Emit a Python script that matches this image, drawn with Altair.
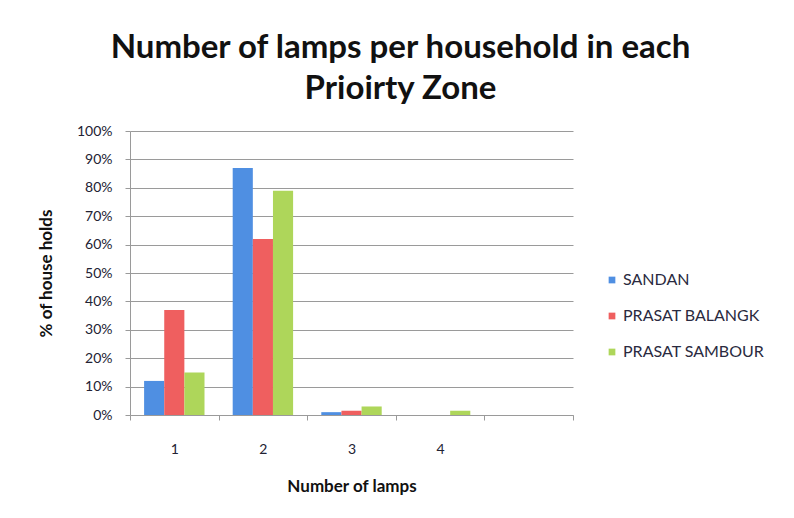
import altair as alt
import pandas as pd

categories = ["1", "2", "3", "4", " "]
zones = ["SANDAN", "PRASAT BALANGK", "PRASAT SAMBOUR"]
sandan = [12, 87, 1, 0]
balangk = [37, 62, 1.5, 0]
sambour = [15, 79, 3, 1.5]

rows = []
for zone, vals in zip(zones, [sandan, balangk, sambour]):
    for cat, v in zip(categories[:4], vals):
        rows.append({"lamps": cat, "zone": zone, "pct": v / 100})
df = pd.DataFrame(rows)

colors = ["#4f8fe2", "#ef5f5f", "#aed65a"]
font = "Lato"

chart = alt.Chart(df).mark_bar().encode(
    x=alt.X("lamps:N", scale=alt.Scale(domain=categories, paddingInner=0, paddingOuter=0),
            axis=alt.Axis(title="Number of lamps", labelAngle=0, tickBand="extent",
                          labelPadding=22, titlePadding=22, domainColor="#9a9a9a",
                          tickColor="#9a9a9a", tickSize=5, grid=False,
                          labelFont=font, titleFont=font, labelFontSize=14, titleFontSize=17,
                          labelColor="#222233", titleColor="#111111", titleFontWeight="bold")),
    xOffset=alt.XOffset("zone:N", sort=zones,
                        scale=alt.Scale(paddingInner=0, paddingOuter=0.7)),
    y=alt.Y("pct:Q", scale=alt.Scale(domain=[0, 1]),
            axis=alt.Axis(title="% of house holds", format=".0%",
                          values=[i / 10 for i in range(11)], labelOverlap=False,
                          labelPadding=13, titlePadding=21, domainColor="#9a9a9a",
                          tickColor="#9a9a9a", tickSize=5, grid=True, gridColor="#9a9a9a",
                          labelFont=font, titleFont=font, labelFontSize=14, titleFontSize=17,
                          labelColor="#222233", titleColor="#111111", titleFontWeight="bold")),
    color=alt.Color("zone:N", sort=zones, scale=alt.Scale(domain=zones, range=colors),
                    legend=alt.Legend(title=None, orient="none", legendX=474, legendY=141,
                                      symbolType="square", symbolSize=45, rowPadding=20,
                                      labelOffset=3, labelFontSize=16, labelFont=font,
                                      labelColor="#2a2a40", symbolStrokeWidth=0)),
).properties(
    width=443,
    height=284,
    background="white",
    title=alt.Title(["Number of lamps per household in each", "Prioirty Zone"],
                    fontSize=33, font=font, fontWeight="bold", color="#111111",
                    anchor="middle", dx=49, offset=18, lineHeight=41),
    autosize=alt.AutoSizeParams(type="none"),
    padding={"left": 122, "top": 123, "right": 213, "bottom": 95},
).configure_view(stroke=None)

chart.save("out.html", embed_options={"renderer": "svg", "actions": False})
